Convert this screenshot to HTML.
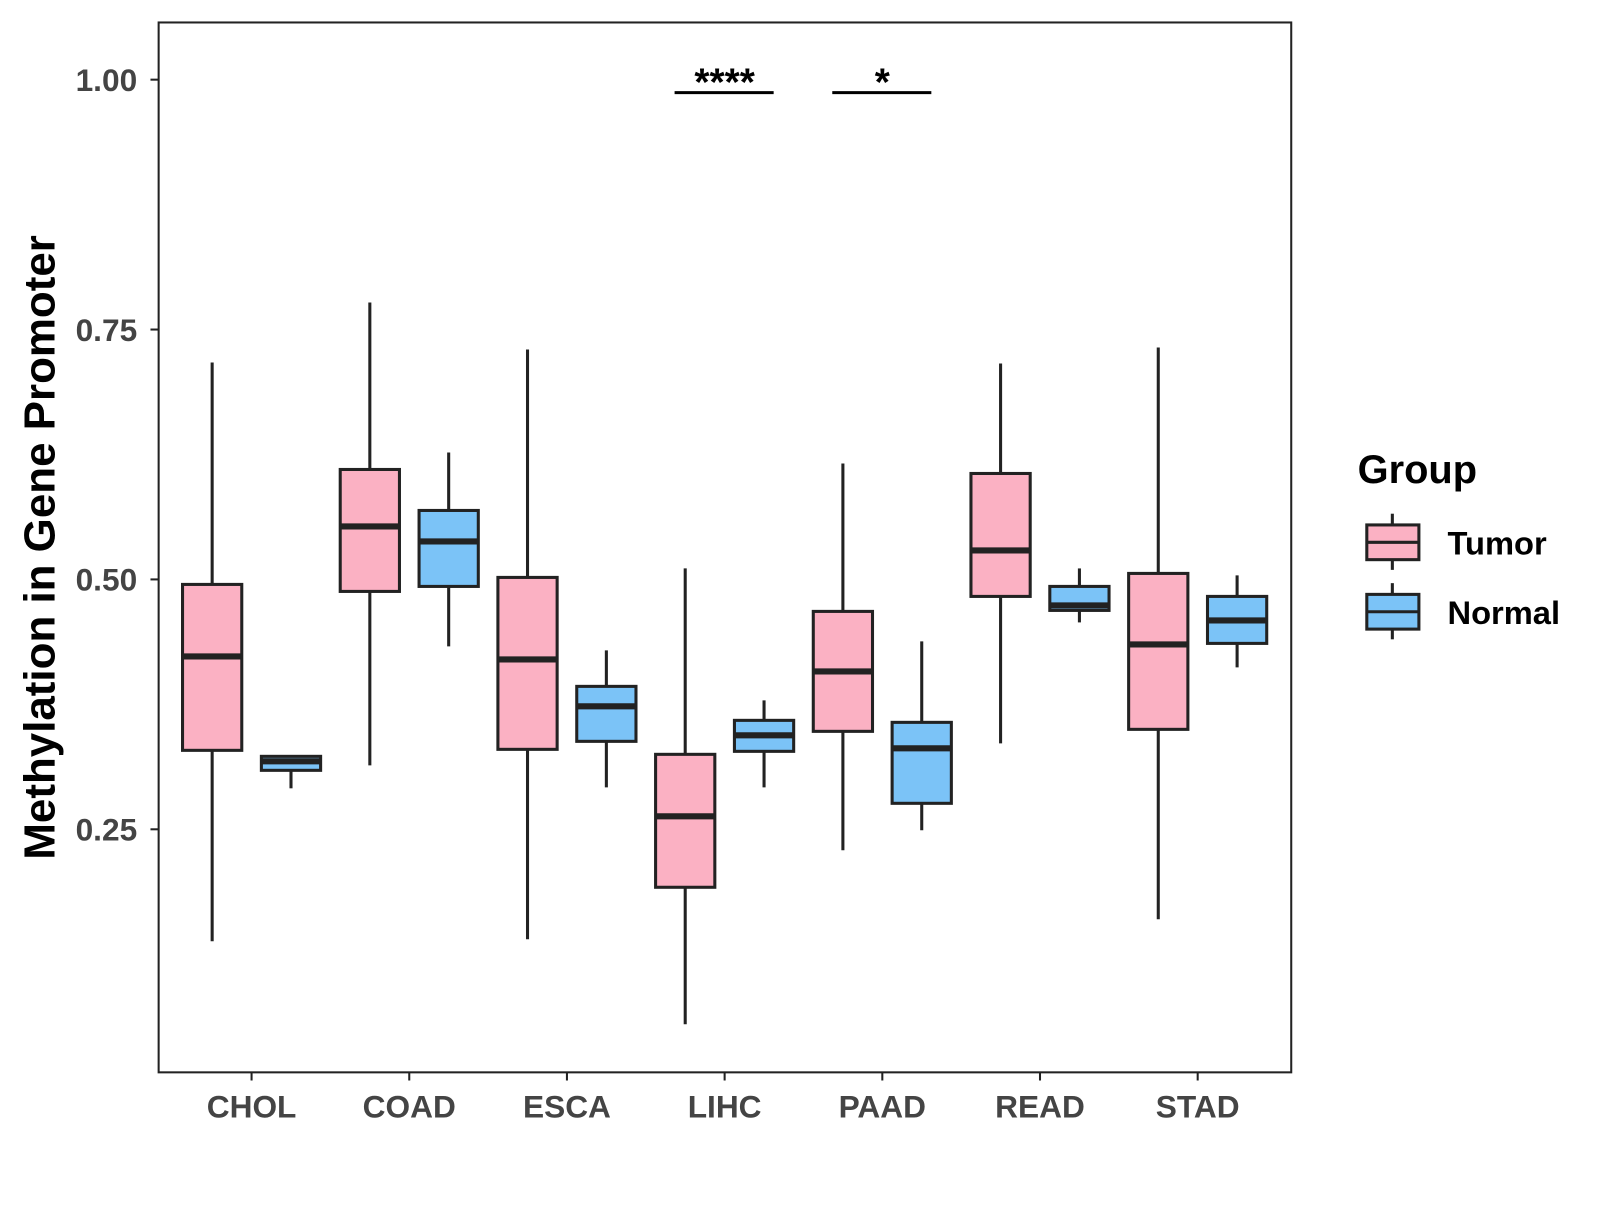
<!DOCTYPE html>
<html><head><meta charset="utf-8"><style>
html,body{margin:0;padding:0;background:#fff;}
svg text{font-family:"Liberation Sans",Arial,sans-serif;font-weight:bold;}
</style></head><body>
<svg id="chart" width="1600" height="1200" viewBox="0 0 1566 1175" xmlns="http://www.w3.org/2000/svg">
<rect x="155" y="22" width="1109" height="1028" fill="#fff" stroke="#222" stroke-width="2"/>
<g id="yaxis"></g>
<g id="xaxis"></g>
<g id="boxes"></g>
<g id="annot"></g>
<text x="53" y="536" font-size="43" fill="#000" text-anchor="middle" transform="rotate(-90 53 536)">Methylation in Gene Promoter</text>
<g>
<text x="1329" y="473" font-size="39" fill="#000">Group</text>
<g>
<line x1="1363" y1="503" x2="1363" y2="558" stroke="#222" stroke-width="3"/>
<rect x="1338" y="514" width="51" height="34" fill="#FBB1C3" stroke="#222" stroke-width="3"/>
<line x1="1338" y1="531" x2="1389" y2="531" stroke="#222" stroke-width="3"/>
<text x="1417" y="543" font-size="32" fill="#000">Tumor</text>
</g>
<g>
<line x1="1363" y1="571" x2="1363" y2="626" stroke="#222" stroke-width="3"/>
<rect x="1338" y="582" width="51" height="34" fill="#7BC3F7" stroke="#222" stroke-width="3"/>
<line x1="1338" y1="599" x2="1389" y2="599" stroke="#222" stroke-width="3"/>
<text x="1417" y="611" font-size="32" fill="#000">Normal</text>
</g>
</g>
</svg>
<script>
const categories=["CHOL","COAD","ESCA","LIHC","PAAD","READ","STAD"];
const groups=["Tumor","Normal"];
// [lowerWhisker, q1, median, q3, upperWhisker]
const tumorStats=[[0.138,0.329,0.423,0.495,0.717],[0.314,0.488,0.553,0.610,0.777],[0.140,0.330,0.420,0.502,0.730],[0.055,0.192,0.263,0.325,0.511],[0.229,0.348,0.408,0.468,0.616],[0.336,0.483,0.529,0.606,0.716],[0.160,0.350,0.435,0.506,0.732]];
const normalStats=[[0.291,0.309,0.318,0.323,0.323],[0.433,0.493,0.538,0.569,0.627],[0.292,0.338,0.373,0.393,0.429],[0.292,0.328,0.344,0.359,0.379],[0.249,0.276,0.331,0.357,0.438],[0.457,0.469,0.474,0.493,0.511],[0.412,0.436,0.459,0.483,0.504]];
const yTicks=[0.25,0.50,0.75,1.00];
const yTickLabels=["0.25","0.50","0.75","1.00"];
const sigCategories=["LIHC","PAAD"];
const sigLabels=["****","*"];
const sigLevel=[0.987];

const NS="http://www.w3.org/2000/svg";
function y(v){return 78+(1-v)*978.7;}
function x(i){return 246+i*154.4;}
function mk(tag,attrs,parent){const e=document.createElementNS(NS,tag);for(const k in attrs)e.setAttribute(k,attrs[k]);parent.appendChild(e);return e;}
const ya=document.getElementById('yaxis'),xa=document.getElementById('xaxis'),bx=document.getElementById('boxes'),an=document.getElementById('annot');
yTicks.forEach((t,i)=>{
 const l=mk('line',{x1:147,x2:155,y1:y(t),y2:y(t),stroke:'#222','stroke-width':2},ya);
 
 
 const tx=mk('text',{x:134,y:y(t)+11,'font-size':31,fill:'#444','text-anchor':'end'},ya);
 tx.textContent=yTickLabels[i];
 
 
});
categories.forEach((c,i)=>{
 const l=mk('line',{x1:x(i),x2:x(i),y1:1050,y2:1058,stroke:'#222','stroke-width':2},xa);
 
 
 const tx=mk('text',{x:x(i),y:1094,'font-size':31,fill:'#444','text-anchor':'middle'},xa);
 tx.textContent=c;
 
 
});
function drawBox(s,cx,fill,name){
 const g=mk('g',{},bx);
 
 
 const w=58;
 mk('line',{x1:cx,x2:cx,y1:y(s[4]),y2:y(s[0]),stroke:'#222','stroke-width':3},g);
 mk('rect',{x:cx-w/2,y:y(s[3]),width:w,height:Math.max(1,y(s[1])-y(s[3])),fill:fill,stroke:'#222','stroke-width':3},g);
 mk('line',{x1:cx-w/2,x2:cx+w/2,y1:y(s[2]),y2:y(s[2]),stroke:'#222','stroke-width':6},g);
}
categories.forEach((c,i)=>{
 drawBox(tumorStats[i],x(i)-38.6,'#FBB1C3','box-'+c.toLowerCase()+'-tumor');
 drawBox(normalStats[i],x(i)+38.6,'#7BC3F7','box-'+c.toLowerCase()+'-normal');
});
sigCategories.forEach((c,k)=>{
 const i=categories.indexOf(c);
 const l=mk('line',{x1:x(i)-49,x2:x(i)+48,y1:y(sigLevel[0]),y2:y(sigLevel[0]),stroke:'#000','stroke-width':3},an);
 
 
 const t=mk('text',{x:x(i),y:y(sigLevel[0])+3,'font-size':38,fill:'#000','text-anchor':'middle'},an);
 t.textContent=sigLabels[k];
 
 
});
</script>
</body></html>
